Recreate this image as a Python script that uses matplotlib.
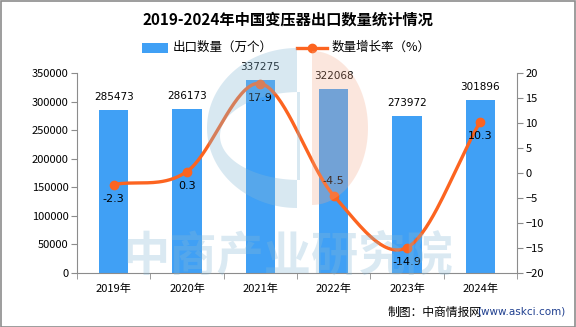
import numpy as np
import matplotlib
matplotlib.use("Agg")
import matplotlib.pyplot as plt
from matplotlib.path import Path
from matplotlib.patches import PathPatch, Rectangle
from matplotlib.lines import Line2D

plt.rcParams['font.family'] = ['Noto Sans CJK SC', 'DejaVu Sans']

years = ['2019年', '2020年', '2021年', '2022年', '2023年', '2024年']
export_qty = [285473, 286173, 337275, 322068, 273972, 301896]
growth = [-2.3, 0.3, 17.9, -4.5, -14.9, 10.3]
growth_label_pos = ['below', 'below', 'below', 'above', 'below', 'below']

W, H = 576, 327
fig = plt.figure(figsize=(W / 100, H / 100), dpi=100)

L, R, T, B = 77, 517, 73, 273
ax = fig.add_axes([L / W, 1 - B / H, (R - L) / W, (B - T) / H])
ax2 = ax.twinx()

BAR_C = '#40a0f5'
LINE_C = '#fc6420'
AX_C = '#8c8c8c'

x = np.arange(len(years))
ax.bar(x, export_qty, width=0.4, color=BAR_C, zorder=2)
ax.set_xlim(-0.5, len(years) - 0.5)
ax.set_ylim(0, 350000)
ax.set_yticks(np.arange(0, 350001, 50000))
ax.set_xticks(x)
ax.set_xticklabels(years)
ax.set_xticks(np.arange(-0.5, len(years), 1), minor=True)
ax.tick_params(axis='x', which='major', length=0, pad=8, labelsize=8)
ax.tick_params(axis='x', which='minor', length=4, color=AX_C, direction='out')
ax.tick_params(axis='y', length=4, color=AX_C, labelsize=8, pad=2)

ax.spines['top'].set_visible(False)
ax.spines['right'].set_visible(False)
ax2.spines['top'].set_visible(False)
for s in ['left', 'bottom']:
    ax.spines[s].set_color(AX_C)
ax2.spines['right'].set_color(AX_C)
ax2.spines['left'].set_visible(False)
ax2.spines['bottom'].set_visible(False)

for xi, v in zip(x, export_qty):
    ax.annotate(f'{v}', (xi, v), xytext=(0, 6), textcoords='offset points',
                ha='center', va='bottom', fontsize=7.5, family='DejaVu Sans', zorder=5)

ax2.set_ylim(-20, 20)
ax2.set_yticks(np.arange(-20, 21, 5))
ax2.tick_params(axis='y', length=4, color=AX_C, labelsize=8, pad=2)

# smooth curve (Catmull-Rom) through the data points
gx = x.astype(float)
gy = np.array(growth, dtype=float)
px = np.concatenate([[2 * gx[0] - gx[1]], gx, [2 * gx[-1] - gx[-2]]])
py = np.concatenate([[2 * gy[0] - gy[1]], gy, [2 * gy[-1] - gy[-2]]])
cx, cy = [], []
for i in range(1, len(px) - 2):
    t = np.linspace(0, 1, 40)
    p0, p1, p2, p3 = [np.array([px[j], py[j]]) for j in (i - 1, i, i + 1, i + 2)]
    tt = t[:, None]
    pts = 0.5 * ((2 * p1) + (-p0 + p2) * tt + (2 * p0 - 5 * p1 + 4 * p2 - p3) * tt ** 2
                 + (-p0 + 3 * p1 - 3 * p2 + p3) * tt ** 3)
    cx.extend(pts[:, 0]); cy.extend(pts[:, 1])
ax2.plot(cx, cy, color=LINE_C, lw=2.4, zorder=6, solid_capstyle='round')
ax2.plot(gx, gy, 'o', color=LINE_C, ms=6, zorder=7)
for xi, v, pos in zip(gx, gy, growth_label_pos):
    if pos == 'below':
        ax2.annotate(f'{v}', (xi, v), xytext=(0, -7), textcoords='offset points',
                     ha='center', va='top', fontsize=8, family='DejaVu Sans', zorder=8)
    else:
        ax2.annotate(f'{v}', (xi, v), xytext=(0, 7), textcoords='offset points',
                     ha='center', va='bottom', fontsize=8, family='DejaVu Sans', zorder=8)

ax.set_zorder(1)
ax2.set_zorder(2)
ax2.patch.set_visible(False)

# watermark logo (figure pixel coordinates)
def fpts(xs, ys):
    return np.column_stack([np.asarray(xs) / W, 1 - np.asarray(ys) / H])

th = np.linspace(np.pi / 2, 3 * np.pi / 2, 80)
outer = fpts(297 + 90 * np.cos(th), 128 - 80 * np.sin(th))
th2 = th[::-1]
inner = fpts(300 + 80 * np.cos(th2), 136 - 44 * np.sin(th2))
verts = np.vstack([outer, outer[:1], inner, inner[:1]])
codes = ([Path.MOVETO] + [Path.LINETO] * (len(outer) - 1) + [Path.CLOSEPOLY]
         + [Path.MOVETO] + [Path.LINETO] * (len(inner) - 1) + [Path.CLOSEPOLY])
fig.patches.append(PathPatch(Path(verts, codes), transform=fig.transFigure,
                             facecolor='#86b8d6', edgecolor='none', alpha=0.32, zorder=3))
th3 = np.linspace(-np.pi / 2, np.pi / 2, 80)
orange = fpts(np.concatenate([[312], 312 + 56 * np.cos(th3), [312]]),
              np.concatenate([[205], 128 - 77 * np.sin(th3), [51]]))
fig.patches.append(plt.Polygon(orange, closed=True, transform=fig.transFigure,
                               facecolor='#f4a888', edgecolor='none', alpha=0.28, zorder=3))
fig.text(288 / W, 1 - 256 / H, '中商产业研究院', ha='center', va='center', fontsize=34,
         fontweight='bold', color='#86b8d6', alpha=0.3, zorder=3)

# title
fig.text(0.5, 1 - 20 / H, '2019-2024年中国变压器出口数量统计情况', ha='center', va='center',
         fontsize=11, fontweight='bold')

# legend
fig.patches.append(Rectangle((142 / W, 1 - 53 / H), 26 / W, 10 / H, transform=fig.transFigure,
                             facecolor=BAR_C, edgecolor='none'))
fig.text(173 / W, 1 - 47.5 / H, '出口数量（万个）', ha='left', va='center', fontsize=9)
fig.lines.append(Line2D([297 / W, 327 / W], [1 - 47.5 / H] * 2, transform=fig.transFigure,
                        color=LINE_C, lw=2.4))
fig.lines.append(Line2D([312 / W], [1 - 47.5 / H], transform=fig.transFigure,
                        marker='o', ms=6, color=LINE_C))
fig.text(332 / W, 1 - 47.5 / H, '数量增长率（%）', ha='left', va='center', fontsize=9)

# source
fig.text(388 / W, 1 - 312 / H, '制图：中商情报网', ha='left', va='center', fontsize=8.5)
fig.text(565 / W, 1 - 312 / H, '(www.askci.com)', ha='right', va='center', fontsize=7.5,
         color='#1f3f8f', family='DejaVu Sans')

# border
fig.patches.append(Rectangle((0.5 / W, 0.5 / H), (W - 1.5) / W, (H - 1.5) / H,
                             transform=fig.transFigure, facecolor='none',
                             edgecolor='#8c8c8c', lw=1.2))

fig.savefig('out.png', dpi=100)
